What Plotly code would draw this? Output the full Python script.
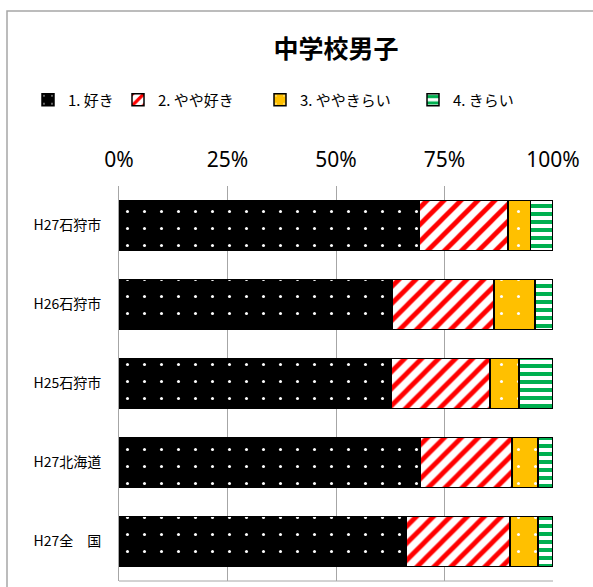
import plotly.graph_objects as go

categories = ["H27石狩市", "H26石狩市", "H25石狩市", "H27北海道", "H27全\u3000国"]
series_names = ["1. 好き", "2. やや好き", "3. ややきらい", "4. きらい"]
like = [69.1, 63.0, 62.7, 69.5, 66.2]
somewhat_like = [20.5, 23.4, 22.8, 21.1, 23.9]
somewhat_dislike = [5.2, 9.5, 6.7, 6.0, 6.5]
dislike = [5.2, 4.1, 7.8, 3.4, 3.4]
tick_vals = [0, 25, 50, 75, 100]
tick_text = ["0%", "25%", "50%", "75%", "100%"]

values = [like, somewhat_like, somewhat_dislike, dislike]
patterns = [
    dict(shape=".", bgcolor="#000000", fgcolor="#FFFFFF", size=17, solidity=0.025, fillmode="replace"),
    dict(shape="/", bgcolor="#FFFFFF", fgcolor="#FF0000", size=12, solidity=0.4, fillmode="replace"),
    dict(shape=".", bgcolor="#FFC000", fgcolor="#FFFFFF", size=17, solidity=0.025, fillmode="replace"),
    dict(shape="-", bgcolor="#FFFFFF", fgcolor="#00B050", size=8, solidity=0.5, fillmode="replace"),
]
legend_ids = ["legend", "legend2", "legend3", "legend4"]
legend_px = [28, 118, 260, 413]

W, H = 593, 587
l, r, t, b = 119, 40, 186, 6

fig = go.Figure()
for name, vals, pat, lid in zip(series_names, values, patterns, legend_ids):
    fig.add_trace(go.Bar(
        y=categories, x=vals, name=name, orientation="h",
        marker=dict(color=pat["bgcolor"], pattern=pat, line=dict(color="#000000", width=1.5)),
        legend=lid, showlegend=True,
    ))

layout_legends = {}
for lid, lx in zip(legend_ids, legend_px):
    layout_legends[lid] = dict(
        orientation="h", xref="container", yref="container",
        x=lx / W, y=1 - 100 / H, xanchor="left", yanchor="middle",
        font=dict(family="Noto Sans CJK JP", size=15, color="#000000"),
        bgcolor="rgba(0,0,0,0)", itemwidth=30, tracegroupgap=0,
    )

fig.update_layout(
    width=W, height=H, showlegend=True,
    margin=dict(l=l, r=r, t=t, b=b, autoexpand=False),
    barmode="stack", bargap=0.37,
    plot_bgcolor="#FFFFFF", paper_bgcolor="#FFFFFF",
    font=dict(family="Noto Sans CJK JP", color="#000000"),
    title=dict(text="<b>中学校男子</b>", x=0.5, xref="paper", xanchor="center",
               y=1 - 49 / H, yref="container", yanchor="middle",
               font=dict(family="Noto Sans CJK JP", size=25, color="#000000")),
    xaxis=dict(range=[0, 100], side="top", tickvals=tick_vals, ticktext=tick_text,
               showgrid=True, gridcolor="#A6A6A6", gridwidth=1, zeroline=False,
               showline=False, ticks="", ticklabelstandoff=14,
               tickfont=dict(family="Noto Sans", size=21, color="#000000")),
    yaxis=dict(autorange="reversed", showline=True, linecolor="#A6A6A6", linewidth=1,
               ticks="", ticklabelstandoff=14, showgrid=False,
               tickfont=dict(family="Noto Sans CJK JP", size=14, color="#000000")),
    shapes=[
        dict(type="rect", xref="paper", yref="paper",
             x0=(7 - l) / (W - l - r), x1=(W + 20 - l) / (W - l - r),
             y0=-0.2, y1=(H - b - 11) / (H - t - b),
             line=dict(color="#A6A6A6", width=1.5), layer="below"),
        dict(type="line", xref="paper", yref="paper", x0=0, x1=1, y0=0, y1=0,
             line=dict(color="#A6A6A6", width=1), layer="below"),
    ],
    **layout_legends,
)

fig.write_html("out.html", config={"displayModeBar": False},
               post_script="document.body.style.margin='0px';")
